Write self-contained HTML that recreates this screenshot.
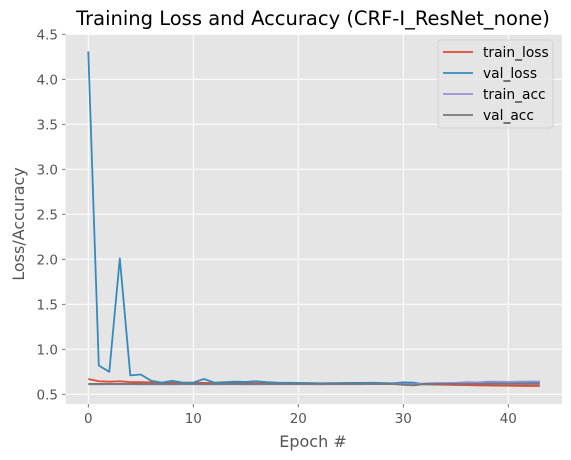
<!DOCTYPE html>
<html><head><meta charset="utf-8"><style>
body{margin:0;background:#fff;}
svg{display:block;font-family:"DejaVu Sans","Liberation Sans",sans-serif;}
</style></head><body>
<svg id="chart" width="571" height="460" xmlns="http://www.w3.org/2000/svg">
<rect x="65.5" y="34" width="496.5" height="370" fill="#e5e5e5"/>
<g id="grid"></g>
<g id="ticks"></g>
<g id="series"></g>
<text x="313" y="25" font-size="19.5" text-anchor="middle" fill="#000">Training Loss and Accuracy (CRF-I_ResNet_none)</text>
<text x="313" y="447" font-size="16" text-anchor="middle" fill="#555">Epoch #</text>
<text x="24" y="224" font-size="16" text-anchor="middle" fill="#555" transform="rotate(-90 24 224)">Loss/Accuracy</text>
<g>
<rect x="438" y="40" width="115" height="88" rx="3" fill="#e5e5e5" fill-opacity="0.8" stroke="#ccc" stroke-width="0.8"/>
<g id="legend"></g>
</g>
</svg>
<script>
const epochs = Array.from({length:44},(_,i)=>i);
const trainLoss = [0.67,0.645,0.64,0.645,0.635,0.635,0.632,0.63,0.63,0.628,0.628,0.627,0.626,0.625,0.625,0.624,0.624,0.623,0.622,0.622,0.621,0.62,0.62,0.619,0.618,0.618,0.617,0.616,0.615,0.614,0.613,0.612,0.61,0.608,0.606,0.604,0.602,0.6,0.598,0.596,0.595,0.594,0.593,0.592];
const valLoss = [4.31,0.82,0.75,2.01,0.71,0.72,0.65,0.63,0.65,0.63,0.63,0.67,0.63,0.635,0.64,0.638,0.645,0.635,0.63,0.628,0.627,0.625,0.622,0.624,0.625,0.626,0.627,0.628,0.625,0.622,0.632,0.63,0.61,0.615,0.62,0.625,0.63,0.628,0.63,0.632,0.632,0.633,0.634,0.634];
const trainAcc = [0.61,0.61,0.612,0.612,0.612,0.61,0.612,0.61,0.61,0.612,0.612,0.61,0.61,0.612,0.612,0.61,0.61,0.612,0.612,0.612,0.612,0.612,0.61,0.612,0.612,0.612,0.612,0.614,0.614,0.615,0.612,0.612,0.62,0.625,0.625,0.628,0.635,0.632,0.64,0.64,0.638,0.64,0.642,0.642];
const valAcc = [0.615,0.615,0.615,0.615,0.615,0.615,0.615,0.615,0.615,0.615,0.615,0.615,0.615,0.615,0.615,0.615,0.615,0.615,0.615,0.615,0.615,0.615,0.615,0.615,0.615,0.615,0.615,0.615,0.615,0.615,0.605,0.6,0.615,0.615,0.615,0.615,0.615,0.615,0.615,0.615,0.615,0.615,0.615,0.615];
const xTicks = [0,10,20,30,40];
const yTicks = [0.5,1.0,1.5,2.0,2.5,3.0,3.5,4.0,4.5];
const seriesNames = ["train_loss","val_loss","train_acc","val_acc"];
const colors = ["#e24a33","#348abd","#988ed5","#777777"];

const X = v => 88.3 + v*10.5;
const Y = v => 394.3 - (v-0.5)*90;
const NS = "http://www.w3.org/2000/svg";
function mk(tag, attrs, parent){const e=document.createElementNS(NS,tag);for(const k in attrs)e.setAttribute(k,attrs[k]);parent.appendChild(e);return e;}
const grid=document.getElementById('grid'), ticks=document.getElementById('ticks'), series=document.getElementById('series'), legend=document.getElementById('legend');
xTicks.forEach(t=>{
  const l=mk('line',{x1:X(t),x2:X(t),y1:34,y2:404,stroke:'#fff','stroke-width':1},grid);
  
  
  mk('line',{x1:X(t),x2:X(t),y1:404,y2:407.5,stroke:'#555','stroke-width':0.8},ticks);
  const tx=mk('text',{x:X(t),y:423,'font-size':13.5,'text-anchor':'middle',fill:'#555'},ticks);
  tx.textContent=t;
  
  
});
yTicks.forEach(t=>{
  const l=mk('line',{x1:65.5,x2:562,y1:Y(t),y2:Y(t),stroke:'#fff','stroke-width':1},grid);
  
  
  mk('line',{x1:62,x2:65.5,y1:Y(t),y2:Y(t),stroke:'#555','stroke-width':0.8},ticks);
  const tx=mk('text',{x:58,y:Y(t)+5,'font-size':13.5,'text-anchor':'end',fill:'#555'},ticks);
  tx.textContent=t.toFixed(1);
  
  
});
[trainLoss,valLoss,trainAcc,valAcc].forEach((d,i)=>{
  const p=mk('polyline',{points:d.map((v,j)=>X(epochs[j])+','+Y(v)).join(' '),fill:'none',stroke:colors[i],'stroke-width':1.8,'stroke-linejoin':'round'},series);
  
  
  const y=52+i*21;
  const g=mk('g',{},legend);
  
  
  mk('line',{x1:443,x2:473,y1:y,y2:y,stroke:colors[i],'stroke-width':1.8},g);
  const tx=mk('text',{x:483,y:y+5,'font-size':13.8,fill:'#000'},g);
  tx.textContent=seriesNames[i];
});
</script>
</body></html>
